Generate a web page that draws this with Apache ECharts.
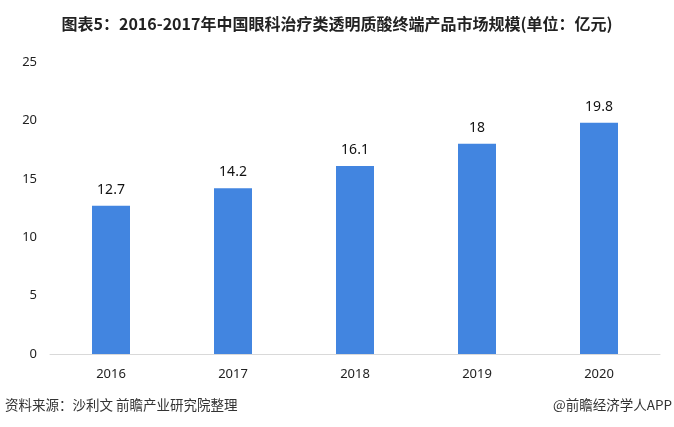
<!DOCTYPE html>
<html><head><meta charset="utf-8">
<script src="https://cdn.jsdelivr.net/npm/echarts@6/dist/echarts.min.js"></script>
<style>html,body{margin:0;padding:0;background:#fff}#c{width:674px;height:427px}</style>
</head><body><div id="c"></div>
<script>
const categories = ['2016','2017','2018','2019','2020'];
const values = [12.7, 14.2, 16.1, 18, 19.8];
const titleText = '图表5：2016-2017年中国眼科治疗类透明质酸终端产品市场规模(单位：亿元)';
const sourceText = '资料来源：沙利文 前瞻产业研究院整理';
const brandText = '@前瞻经济学人APP';

const chart = echarts.init(document.getElementById('c'));
chart.setOption({
  animation: false,
  backgroundColor: '#fff',
  title: {
    text: titleText, left: 'center', top: 11,
    textStyle: {fontFamily: 'Noto Sans CJK SC', fontWeight: 'bold', fontSize: 16, color: '#222'}
  },
  graphic: [
    {type: 'text', left: 5, top: 398, style: {text: sourceText, font: '13.5px "Noto Sans CJK SC"', fill: '#333'}},
    {type: 'text', right: 2, top: 398, style: {text: brandText, font: '13.5px "Noto Sans CJK SC"', fill: '#333'}}
  ],
  grid: {left: 50, right: 14, top: 62, bottom: 73},
  xAxis: {
    type: 'category', data: categories,
    axisLine: {lineStyle: {color: '#d9d9d9'}},
    axisTick: {show: false},
    axisLabel: {color: '#222', fontSize: 13, margin: 14, fontFamily: 'Noto Sans'}
  },
  yAxis: {
    type: 'value', min: 0, max: 25, interval: 5,
    axisLine: {show: false}, axisTick: {show: false},
    splitLine: {show: false},
    axisLabel: {color: '#222', fontSize: 13, margin: 13, fontFamily: 'Noto Sans'}
  },
  series: [{
    type: 'bar', data: values, barWidth: 38,
    itemStyle: {color: '#4285E0'},
    label: {show: true, position: 'top', distance: 9, color: '#111', fontSize: 14, fontFamily: 'Noto Sans'}
  }]
});
</script></body></html>
